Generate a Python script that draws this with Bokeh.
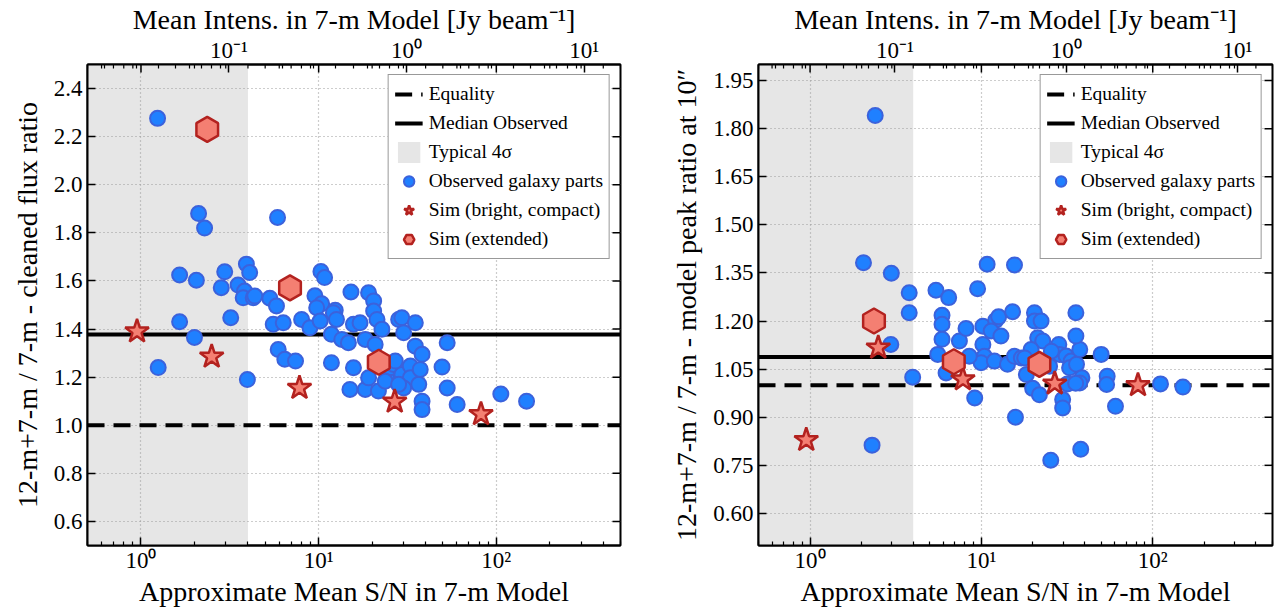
import math
from bokeh.plotting import figure
from bokeh.models import (Range1d, LogScale, LogAxis, FixedTicker, Legend, LegendItem)
from bokeh.layouts import row
from bokeh.embed import file_html
from bokeh.resources import INLINE

FONT = "Liberation Serif"

# ---------------- data ----------------
SN_RANGE = [0.5, 500.0]
INTENS_PER_SN = 0.032          # Jy/beam per unit S/N (top axis conversion)
SIGMA4_SN = 4.0                # edge of the "Typical 4 sigma" band
EQUALITY = 1.0

sn_major = [1, 10, 100]
sn_labels = ["10\u2070", "10\u00b9", "10\u00b2"]
intens_major = [0.1, 1, 10]
intens_labels = ["10\u207b\u00b9", "10\u2070", "10\u00b9"]

# left panel: cleaned flux ratio
left_yrange = [0.5, 2.5]
left_yticks = [0.6, 0.8, 1.0, 1.2, 1.4, 1.6, 1.8, 2.0, 2.2, 2.4]
left_median = 1.377
left_obs_sn = [1.24, 2.11, 2.28, 5.87, 1.65, 2.05, 2.96, 3.92, 4.09, 2.83,
               3.52, 3.83, 3.76, 4.28, 5.31, 5.79, 10.3, 10.8, 9.53, 10.4,
               12.4, 15.2, 3.2, 3.97, 5.55, 6.32, 5.92, 6.45, 7.41, 8.02,
               8.93, 9.75, 10.2, 11.8, 12.1, 12.6, 11.8, 13.5, 15.7, 17.1,
               14.7, 15.7, 15.0, 18.3, 19.1, 20.4, 20.4, 21.3, 22.7, 18.3,
               20.8, 21.7, 19.1, 24.2, 25.3, 26.4, 28.2, 29.4, 30.1, 35.0,
               29.4, 32.8, 35.0, 38.2, 32.8, 36.6, 30.1, 38.2, 38.2, 49.5,
               52.9, 60.2, 52.9, 106, 148, 4.37, 23.7, 28.2, 27.0, 37.3,
               1.25, 1.65, 2.0]
left_obs_ratio = [2.276, 1.880, 1.820, 1.864, 1.625, 1.603, 1.638, 1.670, 1.635, 1.572,
                  1.583, 1.558, 1.530, 1.530, 1.528, 1.496, 1.639, 1.614, 1.538, 1.505,
                  1.478, 1.554, 1.447, 1.190, 1.420, 1.426, 1.315, 1.274, 1.267, 1.440,
                  1.405, 1.489, 1.433, 1.260, 1.468, 1.440, 1.378, 1.357, 1.420, 1.426,
                  1.343, 1.239, 1.149, 1.149, 1.551, 1.517, 1.475, 1.440, 1.399, 1.357,
                  1.336, 1.142, 1.197, 1.197, 1.239, 1.253, 1.440, 1.447, 1.385, 1.426,
                  1.211, 1.246, 1.329, 1.295, 1.197, 1.170, 1.155, 1.100, 1.065, 1.242,
                  1.155, 1.086, 1.343, 1.130, 1.100, 1.537, 1.183, 1.170, 1.267, 1.232,
                  1.24, 1.43, 1.365]

# right panel: model peak ratio at 10"
right_yrange = [0.5, 2.0]
right_yticks = [0.60, 0.75, 0.90, 1.05, 1.20, 1.35, 1.50, 1.65, 1.80, 1.95]
right_median = 1.088
right_obs_sn = [2.4, 2.05, 2.98, 3.79, 3.79, 5.43, 6.44, 5.89, 9.5, 10.8,
                15.6, 2.96, 3.97, 2.3, 5.89, 5.89, 5.56, 6.22, 7.44, 8.13,
                9.14, 10.2, 10.2, 10.4, 9.96, 12.1, 12.6, 11.4, 13.0, 11.9,
                15.2, 14.2, 15.6, 17.1, 15.8, 20.4, 20.4, 22.3, 21.3, 22.8,
                19.5, 17.9, 18.3, 19.9, 21.8, 28.3, 28.6, 31.2, 33.4, 32.7,
                35.9, 37.5, 35.6, 35.6, 25.6, 25.0, 29.8, 29.8, 25.4, 38.6,
                37.5, 38.0, 50, 54.2, 53.8, 60.6, 111, 150, 31.8, 35.5,
                8.5]
right_obs_ratio = [1.841, 1.382, 1.349, 1.288, 1.226, 1.296, 1.273, 1.218, 1.301, 1.377,
                   1.375, 1.127, 1.025, 0.813, 1.190, 1.143, 1.096, 1.038, 1.138, 1.177,
                   0.960, 1.184, 1.127, 1.090, 1.070, 1.202, 1.213, 1.169, 1.153, 1.075,
                   1.229, 1.065, 1.090, 1.085, 0.900, 1.226, 1.200, 1.200, 1.148, 1.138,
                   1.111, 1.085, 1.033, 0.990, 0.970, 1.127, 1.096, 1.091, 1.075, 1.054,
                   1.065, 1.111, 1.153, 1.226, 1.106, 1.059, 0.955, 0.929, 0.766, 1.023,
                   1.007, 0.800, 1.096, 1.028, 1.002, 0.934, 1.004, 0.994, 1.004, 1.006,
                   1.09]

# simulations
sim_star_sn = [0.95, 2.5, 7.8, 26.8, 82]
sim_star_left = [1.39, 1.285, 1.155, 1.098, 1.046]
sim_star_right = [0.829, 1.117, 1.018, 1.005, 1.0]
sim_hex_sn = [2.36, 6.9, 21.8]
sim_hex_left = [2.23, 1.571, 1.262]
sim_hex_right = [1.20, 1.073, 1.065]

SN_MINOR = [0.5, 0.6, 0.7, 0.8, 0.9, 2, 3, 4, 5, 6, 7, 8, 9,
            20, 30, 40, 50, 60, 70, 80, 90, 200, 300, 400, 500]
INT_MINOR = [0.02, 0.03, 0.04, 0.05, 0.06, 0.07, 0.08, 0.09,
             0.2, 0.3, 0.4, 0.5, 0.6, 0.7, 0.8, 0.9, 2, 3, 4, 5, 6, 7, 8, 9]

BLUE_FILL = "#1f80ff"
BLUE_LINE = "#3b62dc"
RED_FILL = "#f47f72"
RED_LINE = "#b3221f"
SHADE = "#e6e6e6"


def style_axis(ax, minor=True):
    ax.axis_line_width = 2
    ax.axis_line_color = "black"
    ax.major_tick_in = 8
    ax.major_tick_out = 0
    ax.major_tick_line_width = 1.5
    if minor:
        ax.minor_tick_in = 4
        ax.minor_tick_out = 0
        ax.minor_tick_line_width = 1.2
    else:
        ax.minor_tick_in = 0
        ax.minor_tick_out = 0
    ax.major_label_text_font = FONT
    ax.major_label_text_font_size = "23px"
    ax.major_label_text_color = "black"
    ax.axis_label_text_font = FONT
    ax.axis_label_text_font_size = "28px"
    ax.axis_label_text_font_style = "normal"
    ax.axis_label_text_color = "black"


def make_panel(obs_sn, obs_ratio, star_ratio, hex_ratio, median, yrange, yticks,
               ylabel, frame_w, b_left, b_right, ylabel_fmt):
    p = figure(frame_width=frame_w, frame_height=481, x_axis_type="log",
               x_range=Range1d(*SN_RANGE), y_range=Range1d(*yrange),
               output_backend="svg", toolbar_location=None,
               min_border_left=b_left, min_border_right=b_right,
               min_border_top=63, min_border_bottom=58)
    p.extra_x_ranges = {"intens": Range1d(SN_RANGE[0] * INTENS_PER_SN,
                                          SN_RANGE[1] * INTENS_PER_SN)}
    p.extra_x_scales = {"intens": LogScale()}
    p.outline_line_color = "black"
    p.outline_line_width = 2
    p.background_fill_color = "white"
    p.border_fill_color = "white"

    bottom = p.below[0]
    bottom.ticker = FixedTicker(ticks=sn_major, minor_ticks=SN_MINOR)
    bottom.major_label_overrides = dict(zip(sn_major, sn_labels))
    bottom.axis_label = "Approximate Mean S/N in 7-m Model"
    style_axis(bottom)
    bottom.major_label_standoff = 2
    bottom.axis_label_standoff = 0

    left = p.left[0]
    left.ticker = FixedTicker(ticks=yticks)
    left.major_label_overrides = {t: ylabel_fmt.format(t) for t in yticks}
    left.axis_label = ylabel
    style_axis(left, minor=False)
    left.axis_label_standoff = 8

    top = LogAxis(x_range_name="intens",
                  axis_label="Mean Intens. in 7-m Model [Jy beam\u207b\u00b9]",
                  ticker=FixedTicker(ticks=intens_major, minor_ticks=INT_MINOR))
    top.major_label_overrides = dict(zip(intens_major, intens_labels))
    style_axis(top)
    top.major_label_standoff = 2
    top.axis_label_standoff = 0
    p.add_layout(top, "above")

    for g in (p.xgrid, p.ygrid):
        g.grid_line_color = "#9a9a9a"
        g.grid_line_dash = "1 3"
        g.grid_line_width = 1.2

    shade = p.quad(left=[SN_RANGE[0]], right=[SIGMA4_SN],
                   bottom=[yrange[0]], top=[yrange[1]],
                   fill_color=SHADE, line_color=None, level="image")

    # mirrored inward ticks on the right edge and the top edge (clipped to frame)
    p.scatter(x=[SN_RANGE[1]] * len(yticks), y=yticks, marker="dash", size=16,
              line_color="black", line_width=1.5)
    p.scatter(x=sn_major, y=[yrange[1]] * len(sn_major), marker="dash", size=16,
              angle=math.pi / 2, line_color="black", line_width=1.5)
    p.scatter(x=SN_MINOR, y=[yrange[1]] * len(SN_MINOR), marker="dash", size=8,
              angle=math.pi / 2, line_color="black", line_width=1.2)

    eq = p.line(x=SN_RANGE, y=[EQUALITY, EQUALITY], line_color="black",
                line_width=4, line_dash="17 9")
    med = p.line(x=SN_RANGE, y=[median, median], line_color="black", line_width=4)

    obs = p.scatter(obs_sn, obs_ratio, marker="circle", size=15,
                    fill_color=BLUE_FILL, line_color=BLUE_LINE, line_width=2)
    star = p.scatter(sim_star_sn, star_ratio, marker="star", size=25,
                     fill_color=RED_FILL, line_color=RED_LINE, line_width=2.5)
    hexr = p.scatter(sim_hex_sn, hex_ratio, marker="hex", size=25, angle=math.pi / 2,
                     fill_color=RED_FILL, line_color=RED_LINE, line_width=2.5)

    legend = Legend(items=[
        LegendItem(label="Equality", renderers=[eq]),
        LegendItem(label="Median Observed", renderers=[med]),
        LegendItem(label="Typical 4\u03c3", renderers=[shade]),
        LegendItem(label="Observed galaxy parts", renderers=[obs]),
        LegendItem(label="Sim (bright, compact)", renderers=[star]),
        LegendItem(label="Sim (extended)", renderers=[hexr]),
    ], location="top_right")
    legend.label_text_font = FONT
    legend.label_text_font_size = "19.5px"
    legend.label_text_color = "black"
    legend.border_line_color = "#333333"
    legend.border_line_width = 1.5
    legend.background_fill_alpha = 1.0
    legend.glyph_width = 28
    legend.glyph_height = 26
    legend.spacing = 3
    legend.padding = 6
    legend.margin = 10
    legend.label_standoff = 6
    p.add_layout(legend)
    return p


p_left = make_panel(left_obs_sn, left_obs_ratio, sim_star_left, sim_hex_left,
                    left_median, left_yrange, left_yticks,
                    "12-m+7-m / 7-m - cleaned flux ratio", 533, 87, 12, "{:.1f}")
p_right = make_panel(right_obs_sn, right_obs_ratio, sim_star_right, sim_hex_right,
                     right_median, right_yrange, right_yticks,
                     "12-m+7-m / 7-m - model peak ratio at 10\u2033", 514, 126, 6, "{:.2f}")

layout = row(p_left, p_right)
open("out.html", "w").write(file_html(layout, INLINE))
